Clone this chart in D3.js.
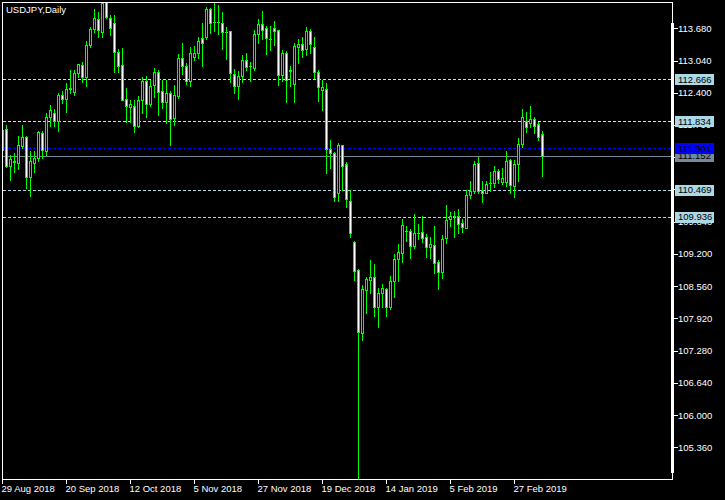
<!DOCTYPE html>
<html><head><meta charset="utf-8">
<script src="https://cdn.jsdelivr.net/npm/d3@7"></script>
<style>html,body{margin:0;padding:0;background:#000;}svg{display:block;}</style>
</head><body>
<script>
// ---- data (USDJPY daily, 29 Aug 2018 .. 8 Mar 2019) ----
const title = "USDJPY,Daily";
const openP = [111.263,111.680,110.946,111.025,111.005,111.343,111.522,110.727,111.005,111.105,
111.601,111.244,111.919,111.998,111.839,112.356,112.276,112.475,112.415,112.792,
112.951,112.713,113.348,113.666,113.865,113.607,114.202,113.885,113.785,113.209,
112.951,112.276,112.117,112.137,111.740,112.256,112.634,112.177,112.554,112.812,
112.435,112.217,112.395,111.899,112.336,113.090,112.931,112.634,113.110,113.190,
113.488,113.507,114.063,113.805,113.805,113.785,113.607,113.626,112.773,112.534,
112.733,113.051,112.931,112.892,113.567,113.765,113.686,113.468,113.686,113.646,
112.753,113.190,112.852,112.574,113.309,113.368,113.269,113.626,113.309,112.812,
112.455,112.475,111.283,111.204,110.410,111.363,110.985,110.251,109.437,108.880,
107.630,108.484,108.682,108.742,108.146,108.424,108.503,108.146,108.662,109.099,
109.218,109.655,109.655,109.357,109.615,109.635,109.536,109.337,109.377,109.040,
108.841,109.516,109.893,109.953,109.953,109.814,109.714,110.370,110.450,111.005,
110.470,110.410,110.608,110.608,110.846,110.628,110.628,111.065,110.549,110.985,
111.383,111.839,111.800,111.879,111.780,111.581];
const highP = [111.720,111.760,111.164,111.204,111.541,111.760,111.541,111.244,111.244,111.641,
111.641,111.998,112.157,112.078,112.395,112.435,112.594,112.852,112.852,112.971,
113.011,113.428,113.706,114.063,114.004,114.441,114.580,113.944,113.944,113.269,
113.289,112.495,112.256,112.256,112.336,112.713,112.733,112.653,112.892,112.852,
112.653,112.653,112.435,112.554,113.170,113.388,112.991,113.309,113.329,113.507,
113.785,114.103,114.083,114.182,114.143,114.004,113.706,113.626,112.872,112.832,
113.150,113.190,113.011,113.646,113.865,114.024,113.726,113.726,113.825,113.646,
113.249,113.229,112.931,113.388,113.468,113.507,113.706,113.666,113.507,112.852,
112.653,112.594,111.462,111.224,111.402,111.363,111.025,110.470,109.456,108.900,
108.583,108.742,109.079,109.000,108.523,108.603,108.523,108.761,109.198,109.397,
109.893,109.754,109.695,109.993,109.794,109.953,109.595,109.536,109.754,109.079,
109.576,110.171,110.032,110.052,110.092,109.893,110.470,110.648,111.045,111.124,
110.648,110.648,110.827,110.946,110.886,110.906,111.244,111.085,111.065,111.502,
112.078,112.018,112.137,111.919,111.819,111.641];
const lowP = [111.164,110.926,110.668,110.827,110.886,111.303,110.509,110.350,110.827,111.045,
111.105,111.164,111.740,111.740,111.641,112.197,112.018,112.395,112.356,112.713,
112.614,112.534,113.309,113.607,113.507,113.507,113.885,113.547,112.812,112.812,
112.256,111.819,111.819,111.621,111.720,111.998,111.919,112.137,112.316,111.958,
112.097,111.800,111.363,111.760,112.296,112.773,112.574,112.534,113.051,113.090,
112.931,113.468,113.587,113.626,113.567,113.269,113.070,112.614,112.395,112.276,
112.614,112.852,112.634,112.852,113.388,113.468,113.170,113.249,113.348,112.554,
112.634,112.217,112.534,112.217,112.991,113.110,113.150,113.190,112.693,112.236,
112.058,110.807,110.906,110.251,110.251,110.470,110.132,109.536,108.682,104.731,
107.491,108.027,108.424,107.967,107.749,108.146,107.967,108.106,108.344,108.662,
109.040,109.456,109.119,109.318,109.496,109.437,109.139,109.119,108.821,108.503,
108.722,109.417,109.754,109.536,109.615,109.635,109.714,110.310,110.410,110.410,
110.231,110.410,110.450,110.529,110.608,110.588,110.549,110.410,110.330,110.648,
111.323,111.621,111.720,111.601,111.462,110.747];
const closeP = [111.661,110.946,111.085,111.045,111.363,111.522,110.727,111.045,111.105,111.621,
111.263,111.919,112.058,111.839,112.356,112.276,112.475,112.495,112.792,112.971,
112.713,113.348,113.666,113.885,113.646,114.182,113.904,113.686,113.209,112.931,
112.256,112.137,112.177,111.740,112.256,112.634,112.177,112.534,112.812,112.415,
112.217,112.395,111.879,112.356,113.090,112.931,112.634,113.190,113.190,113.428,
113.388,114.063,113.785,113.795,113.800,113.607,113.600,112.792,112.534,112.733,
113.051,112.912,112.925,113.567,113.765,113.646,113.488,113.460,113.626,112.753,
113.190,112.653,112.832,113.329,113.368,113.249,113.626,113.368,112.812,112.514,
112.514,111.283,111.204,110.330,111.363,110.946,110.290,109.615,108.861,107.649,
108.503,108.702,108.742,108.146,108.424,108.523,108.146,108.662,109.099,109.238,
109.774,109.660,109.357,109.615,109.610,109.516,109.337,109.397,109.020,108.841,
109.496,109.873,109.953,109.948,109.794,109.734,110.370,110.450,110.985,110.450,
110.410,110.588,110.600,110.846,110.688,110.707,111.045,110.569,110.985,111.383,
111.919,111.720,111.879,111.740,111.522,111.152];
const xTickBars = [0,16,32,48,64,80,96,112,128];
const xTickLabels = ["29 Aug 2018","20 Sep 2018","12 Oct 2018","5 Nov 2018","27 Nov 2018","19 Dec 2018","14 Jan 2019","5 Feb 2019","27 Feb 2019"];
const yTicks = [113.680,113.040,112.400,111.760,111.120,110.480,109.840,109.200,108.560,107.920,107.280,106.640,106.000,105.360];
const upperLevels = [112.666,111.834];
const lowerLevels = [110.469,109.936];
const blueLevel = 111.301;
const bidPrice = 111.152;
const visibleTop = 114.202;

// ---- drawing ----
const W = 725, H = 500;
const L = 2, R = 672, T = 2, B = 479;
const FONT = "'Liberation Sans', Arial, sans-serif";
const FS = "9.5px";
const svg = d3.select("body").append("svg").attr("width", W).attr("height", H)
  .style("background", "#000");

const n = openP.length;
const x = d3.scaleLinear().domain([0, n - 1]).range([2.5, 2.5 + 4 * (n - 1)]);
const y = d3.scaleLinear().domain([d3.min(lowP), visibleTop]).range([B, T]);

svg.append("defs").append("clipPath").attr("id", "plot")
  .append("rect").attr("x", L + 1).attr("y", T + 1).attr("width", R - L - 1).attr("height", B - T - 1);

const plot = svg.append("g").attr("clip-path", "url(#plot)").attr("shape-rendering", "crispEdges");

// horizontal levels
const dashed = (v, color) => plot.append("line")
  .attr("x1", L + 1).attr("x2", R).attr("y1", Math.round(y(v)) + 0.5).attr("y2", Math.round(y(v)) + 0.5)
  .attr("stroke", color).attr("stroke-width", 1).attr("stroke-dasharray", "3,2");
upperLevels.forEach(v => dashed(v, "#dcdcdc"));
lowerLevels.forEach(v => dashed(v, "#add8e6"));
dashed(blueLevel, "#0000ff");
plot.append("line").attr("x1", L + 1).attr("x2", R)
  .attr("y1", Math.round(y(bidPrice)) + 0.5).attr("y2", Math.round(y(bidPrice)) + 0.5)
  .attr("stroke", "#778899").attr("stroke-width", 1);

// candles
const idx = d3.range(n);
const top_ = i => Math.round(y(Math.max(openP[i], closeP[i])));
const bot_ = i => Math.round(y(Math.min(openP[i], closeP[i])));
const bars = plot.selectAll("g.bar").data(idx).join("g").attr("class", "bar");
bars.append("rect")
  .attr("x", i => x(i) - 0.5).attr("width", 1)
  .attr("y", i => Math.round(y(highP[i])))
  .attr("height", i => Math.round(y(lowP[i])) - Math.round(y(highP[i])) + 1)
  .attr("fill", "#00ff00");
bars.append("rect")
  .attr("x", i => x(i) - 1.5).attr("width", 3)
  .attr("y", top_)
  .attr("height", i => bot_(i) - top_(i) + 1)
  .attr("fill", "#00ff00");
bars.filter(i => bot_(i) - top_(i) >= 2)
  .append("rect")
  .attr("x", i => x(i) - 0.5).attr("width", 1)
  .attr("y", i => top_(i) + 1)
  .attr("height", i => bot_(i) - top_(i) - 1)
  .attr("fill", i => closeP[i] < openP[i] ? "#ffffff" : "#000000");

// frame
const frame = svg.append("g").attr("shape-rendering", "crispEdges").attr("stroke", "#fff").attr("stroke-width", 1);
frame.append("line").attr("x1", L + 0.5).attr("x2", L + 0.5).attr("y1", T).attr("y2", B + 1);
frame.append("line").attr("x1", L).attr("x2", R + 1).attr("y1", T + 0.5).attr("y2", T + 0.5);
frame.append("line").attr("x1", L).attr("x2", R + 1).attr("y1", B + 0.5).attr("y2", B + 0.5);
frame.append("line").attr("x1", R + 0.5).attr("x2", R + 0.5).attr("y1", T).attr("y2", B + 1);
svg.append("rect").attr("x", R - 1).attr("y", 23).attr("width", 3).attr("height", 450).attr("fill", "#fff");

// right axis
const yAxis = svg.append("g");
yTicks.forEach(v => {
  const yy = Math.round(y(v)) + 0.5;
  yAxis.append("line").attr("x1", R + 1).attr("x2", R + 6).attr("y1", yy).attr("y2", yy)
    .attr("stroke", "#fff").attr("shape-rendering", "crispEdges");
  yAxis.append("text").attr("x", 678).attr("y", y(v)).attr("dy", "0.36em")
    .attr("fill", "#fff").style("font", `${FS} ${FONT}`).text(v.toFixed(3));
});

// bottom axis
xTickBars.forEach((b, k) => {
  svg.append("line").attr("x1", Math.floor(x(b)) + 0.5).attr("x2", Math.floor(x(b)) + 0.5)
    .attr("y1", B).attr("y2", B + 5).attr("stroke", "#fff").attr("shape-rendering", "crispEdges");
  svg.append("text").attr("x", x(b) - 1).attr("y", 491.5)
    .attr("fill", "#fff").style("font", `${FS} ${FONT}`).text(xTickLabels[k]);
});

// price label boxes
const box = (v, bg, fg) => {
  const yy = y(v);
  svg.append("rect").attr("x", 675).attr("y", Math.round(yy) - 5).attr("width", 39).attr("height", 11)
    .attr("fill", bg).attr("shape-rendering", "crispEdges");
  svg.append("text").attr("x", 678).attr("y", yy).attr("dy", "0.36em")
    .attr("fill", fg).style("font", `${FS} ${FONT}`).text(v.toFixed(3));
};
upperLevels.concat(lowerLevels).forEach(v => box(v, "#add8e6", "#000"));
box(bidPrice, "#778899", "#000");
box(blueLevel, "#0000ff", "#000");

// title
svg.append("text").attr("x", 6).attr("y", 13).attr("fill", "#fff")
  .style("font", `${FS} ${FONT}`).text(title);
</script>
</body></html>
